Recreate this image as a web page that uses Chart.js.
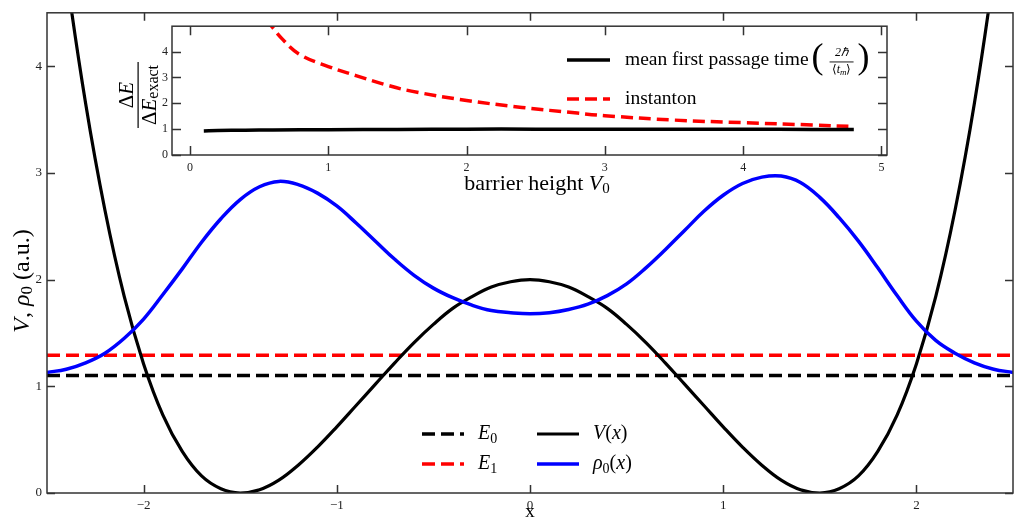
<!DOCTYPE html>
<html>
<head>
<meta charset="utf-8">
<script src="https://cdn.jsdelivr.net/npm/chart.js@4.4.1/dist/chart.umd.min.js"></script>
<style>
  html, body { margin: 0; padding: 0; background: #fff; }
  #wrap { position: relative; width: 1015px; height: 530px; }
  #main { position: absolute; left: 0; top: 0; }
  #inset { position: absolute; left: 100px; top: 15px; }
</style>
</head>
<body>
<div id="wrap">
  <canvas id="main" width="1015" height="530"></canvas>
  <canvas id="inset" width="800" height="185"></canvas>
</div>
<script>
// ---- main plot data ----
const X_GRID = [-2.5, -2.4, -2.3, -2.2, -2.1, -2.0, -1.9, -1.8, -1.7, -1.6, -1.5,
  -1.4, -1.3, -1.2, -1.1, -1.0, -0.9, -0.8, -0.7, -0.6, -0.5, -0.4, -0.3, -0.2, -0.1,
  0.0, 0.1, 0.2, 0.3, 0.4, 0.5, 0.6, 0.7, 0.8, 0.9, 1.0, 1.1, 1.2, 1.3, 1.4,
  1.5, 1.6, 1.7, 1.8, 1.9, 2.0, 2.1, 2.2, 2.3, 2.4, 2.5];
const V_VALUES = [6.32, 4.87, 3.65, 2.65, 1.84, 1.21, 0.73, 0.39, 0.16, 0.04, 0.0,
  0.03, 0.12, 0.26, 0.43, 0.62, 0.82, 1.02, 1.22, 1.41, 1.58, 1.73, 1.84, 1.93, 1.98,
  2.0, 1.98, 1.93, 1.84, 1.73, 1.58, 1.41, 1.22, 1.02, 0.82, 0.62, 0.43, 0.26, 0.12, 0.03,
  0.0, 0.04, 0.16, 0.39, 0.73, 1.21, 1.84, 2.65, 3.65, 4.87, 6.32];
const RHO_VALUES = [1.13, 1.16, 1.22, 1.31, 1.45, 1.63, 1.86, 2.10, 2.35, 2.57, 2.75,
  2.87, 2.92, 2.89, 2.81, 2.69, 2.53, 2.36, 2.19, 2.04, 1.92, 1.83, 1.76, 1.71, 1.69,
  1.68, 1.69, 1.72, 1.77, 1.85, 1.96, 2.11, 2.28, 2.46, 2.64, 2.79, 2.90, 2.96, 2.97, 2.91,
  2.77, 2.58, 2.36, 2.11, 1.85, 1.61, 1.43, 1.31, 1.22, 1.16, 1.13];
const E_LEVELS = [1.10, 1.29];
const X_TICKS = [-2, -1, 0, 1, 2];
const Y_TICKS = [0, 1, 2, 3, 4];

// ---- inset data ----
const MFPT_V0 = [0.1, 0.2, 0.4, 0.6, 1.0, 1.5, 2.0, 2.5, 3.0, 3.5, 4.0, 4.5, 4.8];
const MFPT_RATIO = [0.93, 0.945, 0.96, 0.97, 0.98, 0.99, 1.0, 1.0, 1.0, 1.0, 0.995, 0.99, 0.99];
const INST_V0 = [0.55, 0.67, 0.79, 1.0, 1.2, 1.4, 1.6, 2.0, 2.4, 2.8, 3.0, 3.5, 4.0, 4.5, 4.8];
const INST_RATIO = [5.25, 4.47, 3.9, 3.42, 3.07, 2.74, 2.47, 2.11, 1.84, 1.62, 1.52, 1.35, 1.25, 1.16, 1.10];
const INSET_X_TICKS = [0, 1, 2, 3, 4, 5];
const INSET_Y_TICKS = [0, 1, 2, 3, 4];

const SERIF = "'Liberation Serif', 'Times New Roman', serif";
const AXIS_COLOR = "#333";
const BLUE = "#0000ff";
const RED = "#ff0000";

function pts(xs, ys) {
  return xs.map((x, i) => ({ x: x, y: ys[i] }));
}

function fmt(v) {
  return v < 0 ? "\u2212" + Math.abs(v) : String(v);
}

// draws a run of text parts: {t, size, it, dy}
function rich(ctx, parts, x, y, align) {
  let w = 0;
  const widths = parts.map((p) => {
    ctx.font = (p.it ? "italic " : "") + p.size + "px " + SERIF;
    const pw = ctx.measureText(p.t).width;
    w += pw;
    return pw;
  });
  let cx = align === "center" ? x - w / 2 : align === "right" ? x - w : x;
  ctx.textAlign = "left";
  ctx.textBaseline = "middle";
  parts.forEach((p, i) => {
    ctx.font = (p.it ? "italic " : "") + p.size + "px " + SERIF;
    ctx.fillText(p.t, cx, y + (p.dy || 0));
    cx += widths[i];
  });
  return w;
}

function drawFrame(chart, len) {
  const { ctx, chartArea: a, scales: { x, y } } = chart;
  ctx.save();
  ctx.strokeStyle = AXIS_COLOR;
  ctx.lineWidth = 1.5;
  ctx.beginPath();
  x.ticks.forEach((t) => {
    const px = Math.round(x.getPixelForValue(t.value)) + 0.5;
    ctx.moveTo(px, a.bottom); ctx.lineTo(px, a.bottom - len);
    ctx.moveTo(px, a.top); ctx.lineTo(px, a.top + len);
  });
  y.ticks.forEach((t) => {
    const py = Math.round(y.getPixelForValue(t.value)) + 0.5;
    ctx.moveTo(a.left, py); ctx.lineTo(a.left + len, py);
    ctx.moveTo(a.right, py); ctx.lineTo(a.right - len, py);
  });
  ctx.stroke();
  ctx.strokeRect(a.left, a.top, a.right - a.left, a.bottom - a.top);
  ctx.restore();
}

const mainDecor = {
  id: "mainDecor",
  afterDraw(chart) {
    drawFrame(chart, 8);
    const ctx = chart.ctx;
    ctx.save();
    ctx.fillStyle = "#000";
    // x title
    rich(ctx, [{ t: "x", size: 19 }], 530, 512, "center");
    // y title
    ctx.save();
    ctx.translate(23, 281);
    ctx.rotate(-Math.PI / 2);
    rich(ctx, [
      { t: "V", size: 24, it: true },
      { t: ", ", size: 24 },
      { t: "\u03c1", size: 24, it: true },
      { t: "0", size: 17, dy: 5 },
      { t: " (a.u.)", size: 24 },
    ], 0, 0, "center");
    ctx.restore();

    // legend
    const ds = chart.data.datasets;
    const items = [
      { d: ds[3], x: 422, y: 434, label: [{ t: "E", size: 20, it: true }, { t: "0", size: 14, dy: 5 }] },
      { d: ds[2], x: 422, y: 464, label: [{ t: "E", size: 20, it: true }, { t: "1", size: 14, dy: 5 }] },
      { d: ds[1], x: 537, y: 434, label: [{ t: "V", size: 20, it: true }, { t: "(", size: 20 }, { t: "x", size: 20, it: true }, { t: ")", size: 20 }] },
      { d: ds[0], x: 537, y: 464, label: [{ t: "\u03c1", size: 20, it: true }, { t: "0", size: 14, dy: 5 }, { t: "(", size: 20 }, { t: "x", size: 20, it: true }, { t: ")", size: 20 }] },
    ];
    items.forEach((it) => {
      ctx.save();
      ctx.strokeStyle = it.d.borderColor;
      ctx.lineWidth = it.d.borderWidth;
      ctx.setLineDash(it.d.borderDash || []);
      ctx.beginPath();
      ctx.moveTo(it.x, it.y);
      ctx.lineTo(it.x + 42, it.y);
      ctx.stroke();
      ctx.restore();
      rich(ctx, it.label, it.x + 56, it.y, "left");
    });
    ctx.restore();
  },
};

new Chart(document.getElementById("main"), {
  type: "line",
  data: {
    datasets: [
      { label: "rho0(x)", data: pts(X_GRID, RHO_VALUES), borderColor: BLUE, borderWidth: 3.5, order: 0, tension: 0.4 },
      { label: "V(x)", data: pts(X_GRID, V_VALUES), borderColor: "#000", borderWidth: 3.2, order: 1, tension: 0.4 },
      { label: "E1", data: pts([-2.5, 2.5], [E_LEVELS[1], E_LEVELS[1]]), borderColor: RED, borderWidth: 3.5, borderDash: [13, 6], order: 2 },
      { label: "E0", data: pts([-2.5, 2.5], [E_LEVELS[0], E_LEVELS[0]]), borderColor: "#000", borderWidth: 3.5, borderDash: [13, 6], order: 3 },
    ],
  },
  options: {
    responsive: false,
    animation: false,
    events: [],
    layout: { padding: { top: 10, right: 2, left: 0, bottom: 0 } },
    elements: { point: { radius: 0 }, line: { fill: false } },
    plugins: { legend: { display: false }, tooltip: { enabled: false } },
    scales: {
      x: {
        type: "linear", min: -2.5, max: 2.5,
        afterBuildTicks: (s) => { s.ticks = X_TICKS.map((v) => ({ value: v })); },
        afterFit: (s) => { s.height = 37; },
        grid: { display: false, drawTicks: false },
        border: { display: false },
        ticks: { padding: 5, color: "#222", font: { family: SERIF, size: 13 }, maxRotation: 0, autoSkip: false, callback: (v) => fmt(v) },
      },
      y: {
        type: "linear", min: 0, max: 4.5,
        afterBuildTicks: (s) => { s.ticks = Y_TICKS.map((v) => ({ value: v })); },
        afterFit: (s) => { s.width = 47; },
        grid: { display: false, drawTicks: false },
        border: { display: false },
        ticks: { padding: 5, color: "#222", font: { family: SERIF, size: 13 }, callback: (v) => fmt(v) },
      },
    },
  },
  plugins: [mainDecor],
});

const insetDecor = {
  id: "insetDecor",
  beforeDraw(chart) {
    const { ctx, chartArea: a } = chart;
    ctx.save();
    ctx.fillStyle = "#fff";
    ctx.fillRect(a.left, a.top, a.right - a.left, a.bottom - a.top);
    ctx.restore();
  },
  afterDraw(chart) {
    drawFrame(chart, 9);
    const ctx = chart.ctx;
    ctx.save();
    ctx.fillStyle = "#000";
    // x title
    rich(ctx, [
      { t: "barrier height ", size: 22 },
      { t: "V", size: 22, it: true },
      { t: "0", size: 15, dy: 5 },
    ], 437, 169, "center");

    // y title fraction
    ctx.save();
    ctx.translate(38, 80);
    ctx.rotate(-Math.PI / 2);
    rich(ctx, [{ t: "\u0394", size: 21 }, { t: "E", size: 21, it: true }], 0, -11, "center");
    rich(ctx, [{ t: "\u0394", size: 21 }, { t: "E", size: 21, it: true }, { t: "exact", size: 16, dy: 4 }], 0, 12, "center");
    ctx.fillRect(-33, -0.5, 66, 1.2);
    ctx.restore();

    // legend
    const ds = chart.data.datasets;
    const rows = [{ d: ds[0], y: 45 }, { d: ds[1], y: 84 }];
    rows.forEach((r) => {
      ctx.save();
      ctx.strokeStyle = r.d.borderColor;
      ctx.lineWidth = r.d.borderWidth;
      ctx.setLineDash(r.d.borderDash || []);
      ctx.beginPath();
      ctx.moveTo(467, r.y);
      ctx.lineTo(510, r.y);
      ctx.stroke();
      ctx.restore();
    });
    const w = rich(ctx, [{ t: "mean first passage time", size: 19.5 }], 525, 45, "left");
    rich(ctx, [{ t: "instanton", size: 19.5 }], 525, 84, "left");
    // (2hbar / <t_m>)
    const px = 525 + w + 3;
    rich(ctx, [{ t: "(", size: 36 }], px, 44, "left");
    const fx = px + 30;
    rich(ctx, [{ t: "2\u210f", size: 12, it: true }], fx, 38, "center");
    rich(ctx, [{ t: "\u27e8", size: 12 }, { t: "t", size: 12, it: true }, { t: "m", size: 9, it: true, dy: 3 }, { t: "\u27e9", size: 12 }], fx, 55, "center");
    ctx.fillRect(fx - 12, 46.5, 24, 0.9);
    rich(ctx, [{ t: ")", size: 36 }], fx + 16, 44, "left");
    ctx.restore();
  },
};

new Chart(document.getElementById("inset"), {
  type: "line",
  data: {
    datasets: [
      { label: "mean first passage time", data: pts(MFPT_V0, MFPT_RATIO), borderColor: "#000", borderWidth: 3.5, order: 0, tension: 0.4 },
      { label: "instanton", data: pts(INST_V0, INST_RATIO), borderColor: RED, borderWidth: 3.5, borderDash: [12, 6], order: 1, tension: 0.4 },
    ],
  },
  options: {
    responsive: false,
    animation: false,
    events: [],
    layout: { padding: { top: 10, right: 13, left: 0, bottom: 0 } },
    elements: { point: { radius: 0 }, line: { fill: false } },
    plugins: { legend: { display: false }, tooltip: { enabled: false } },
    scales: {
      x: {
        type: "linear", min: -0.13, max: 5.04,
        afterBuildTicks: (s) => { s.ticks = INSET_X_TICKS.map((v) => ({ value: v })); },
        afterFit: (s) => { s.height = 45; },
        grid: { display: false, drawTicks: false },
        border: { display: false },
        ticks: { padding: 6, color: "#222", font: { family: SERIF, size: 12 }, maxRotation: 0, autoSkip: false },
      },
      y: {
        type: "linear", min: 0, max: 4.98,
        afterBuildTicks: (s) => { s.ticks = INSET_Y_TICKS.map((v) => ({ value: v })); },
        afterFit: (s) => { s.width = 72; },
        grid: { display: false, drawTicks: false },
        border: { display: false },
        ticks: { padding: 4, color: "#222", font: { family: SERIF, size: 12 } },
      },
    },
  },
  plugins: [insetDecor],
});
</script>
</body>
</html>
